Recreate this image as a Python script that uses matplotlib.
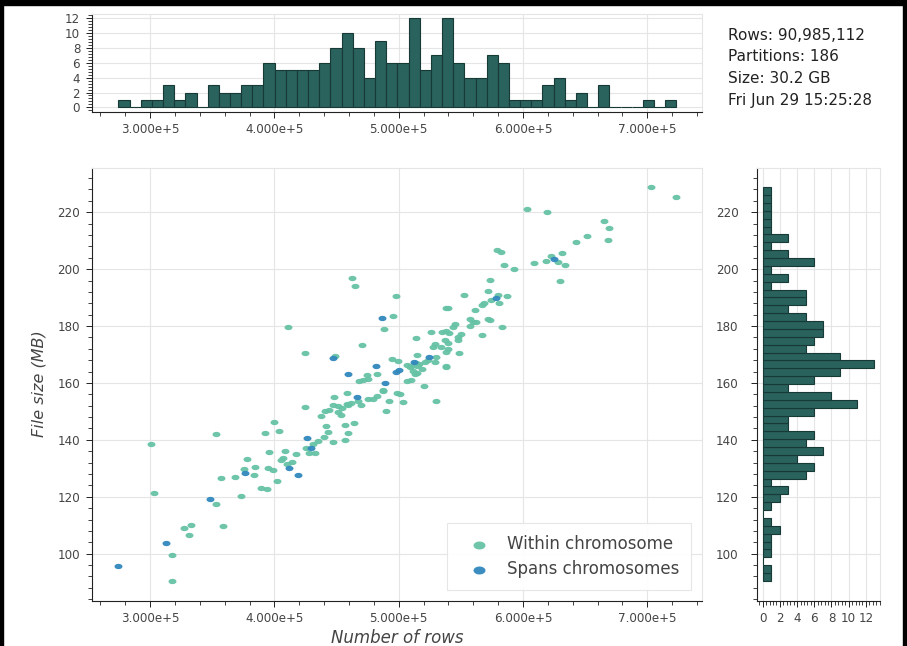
import numpy as np
import matplotlib.pyplot as plt
from matplotlib.path import Path
from matplotlib.ticker import MultipleLocator, FuncFormatter

plt.rcParams['font.family'] = ['DejaVu Sans']

# %% partitions: rows (thousands) and parquet file size (MB)
within_rows = [300.8, 303.2, 317.4, 317.4, 327.3, 332.7, 331.1, 353.1, 353.1, 357.3,
               358.9, 368.6, 373.0, 375.8, 378.2, 383.6, 384.2, 389.5, 393.8, 392.7,
               395.9, 395.1, 399.1, 399.9, 402.3, 403.9, 406.7, 408.3, 410.4, 413.9,
               417.4, 424.8, 425.4, 428.0, 432.6, 437.2, 439.9, 441.5, 443.3, 444.1,
               447.3, 447.3, 447.9, 451.4, 453.3, 454.3, 456.7, 456.7, 458.1, 459.4,
               459.4, 464.0, 469.4, 475.0, 479.5, 482.7, 487.6, 489.5, 492.1, 498.8,
               501.0, 503.6,
               462.4, 464.8, 497.7, 495.6, 488.1, 410.9, 424.8, 470.4, 448.7, 494.2,
               499.5, 468.2, 474.2, 475.5, 482.7, 487.5,
               702.7, 723.4, 602.8, 619.1, 665.0, 669.0, 668.7, 651.2, 643.0, 579.2,
               582.0, 631.2, 622.3, 618.8, 608.9, 634.0, 584.8, 592.6, 629.4, 573.6,
               572.0, 580.0, 586.8, 574.6, 580.8, 568.6, 567.3, 552.6, 561.2, 539.8,
               537.9, 557.2, 559.8, 562.0, 572.0, 573.3, 583.2, 567.0, 545.0, 543.5,
               526.3, 535.1, 537.9, 540.5, 550.5, 547.7, 513.8, 537.1, 539.8, 529.1,
               527.3, 534.3, 538.4, 548.4, 514.4, 506.3, 509.0, 514.4, 516.5, 521.1,
               523.8, 529.1, 537.9, 538.4, 511.6, 514.4, 518.4, 506.3, 509.5, 513.0,
               520.4, 529.9,
               405.0, 431.0, 435.0, 441.0, 451.0, 458.0, 462.0, 467.0, 471.0, 510.0,
               514.0, 530.0, 540.0, 548.0, 557.0, 628.0]
within_size = [138.4, 121.4, 99.6, 90.4, 109.1, 110.1, 106.6, 142.2, 117.6, 126.6,
               109.6, 126.9, 120.2, 129.7, 133.4, 127.6, 130.4, 123.0, 122.7, 142.4,
               135.9, 130.0, 129.3, 146.3, 125.7, 143.2, 133.5, 136.0, 131.5, 132.2,
               134.9, 151.7, 137.3, 135.3, 135.3, 148.3, 141.1, 145.0, 142.8, 150.5,
               152.3, 139.4, 155.0, 149.8, 148.8, 151.1, 140.1, 145.2, 156.4, 152.3,
               142.3, 146.0, 152.3, 154.3, 154.3, 155.4, 157.2, 150.2, 153.7, 156.4,
               156.1, 153.4,
               196.8, 193.9, 190.4, 183.5, 178.8, 179.8, 170.5, 173.2, 169.6, 168.3,
               167.7, 160.8, 162.8, 161.4, 163.1, 157.5,
               228.8, 225.3, 221.1, 220.1, 217.0, 214.5, 210.3, 211.8, 209.6, 206.9,
               205.9, 205.5, 204.6, 202.8, 202.3, 201.4, 201.5, 200.0, 195.8, 196.2,
               192.3, 191.0, 190.4, 189.2, 188.2, 188.2, 187.5, 190.9, 185.7, 186.5,
               186.5, 182.4, 181.4, 181.4, 182.4, 182.1, 179.8, 176.9, 180.7, 179.8,
               178.0, 178.0, 178.4, 177.7, 177.2, 176.0, 175.7, 175.1, 174.2, 173.7,
               172.8, 172.6, 171.0, 170.5, 169.8, 166.3, 165.7, 165.9, 166.6, 167.5,
               168.1, 167.5, 166.0, 165.5, 164.2, 163.4, 164.9, 160.8, 161.0, 163.1,
               159.1, 153.7,
               133.0, 138.5, 139.5, 150.0, 152.0, 152.5, 153.0, 153.5, 161.0, 166.0,
               167.0, 169.0, 172.0, 175.0, 180.0, 202.5]
spans_rows = [274.5, 312.9, 348.2, 376.4, 411.5, 419.0, 426.0, 429.2, 446.9, 458.9,
              466.2, 481.5, 486.2, 488.6, 497.7, 500.2, 512.2, 524.1, 578.6, 625.0]
spans_size = [95.8, 103.8, 119.1, 128.5, 130.2, 127.6, 140.5, 137.3, 168.7, 163.3,
              155.2, 166.0, 183.0, 159.9, 164.0, 164.6, 167.5, 169.0, 189.7, 203.6]

# partitions per bin, 50 bins each
rows_counts = [1, 0, 1, 1, 3, 1, 2, 0, 3, 2, 2, 3, 3, 6, 5, 5, 5, 5, 6, 8, 10, 8, 4, 9, 6,
               6, 12, 5, 7, 12, 6, 4, 4, 7, 6, 1, 1, 1, 3, 4, 1, 2, 0, 3, 0, 0, 0, 1, 0, 1]
size_counts = [1, 1, 0, 1, 1, 1, 2, 1, 0, 1, 2, 3, 1, 5, 6, 4, 7, 5, 6, 3, 3, 6, 11, 8, 3,
               6, 9, 13, 9, 5, 6, 7, 7, 5, 3, 5, 5, 1, 3, 1, 6, 3, 1, 3, 1, 1, 1, 1, 1, 1]

info_lines = ["Rows: 90,985,112", "Partitions: 186", "Size: 30.2 GB", "Fri Jun 29 15:25:28"]

# %% bins
rows_all = np.array(within_rows + spans_rows) * 1000
size_all = np.array(within_size + spans_size)
rows_edges = np.linspace(rows_all.min(), rows_all.max(), len(rows_counts) + 1)
size_edges = np.linspace(size_all.min(), size_all.max(), len(size_counts) + 1)

bar_fill = '#2a625e'
bar_line = '#173a37'
green = '#66c2a5'
blue = '#3288bd'

t = np.linspace(0, 2 * np.pi, 41)
dot = Path(np.column_stack([1.5 * np.cos(t), np.sin(t)]), closed=True)


def bokeh_look(a):
    a.set_axisbelow(True)
    a.grid(True, which='major', color='#e5e5e5', linewidth=0.8)
    for s in ('top', 'right'):
        a.spines[s].set_color('#e5e5e5')
        a.spines[s].set_linewidth(0.8)
    for s in ('left', 'bottom'):
        a.spines[s].set_color('#222222')
        a.spines[s].set_linewidth(0.8)
    a.tick_params(which='major', length=4.3, width=0.7, color='#222222',
                  labelcolor='#444444', labelsize=8.6, pad=4)
    a.tick_params(which='minor', length=2.9, width=0.6, color='#222222')


sci = FuncFormatter(lambda v, p: f"{v / 1e5:.3f}e+5")

fig = plt.figure(figsize=(9.07, 6.46), dpi=100)
ax_top = fig.add_axes([0.1011, 0.8269, 0.6729, 0.1517])
ax = fig.add_axes([0.1011, 0.0703, 0.6729, 0.6703])
ax_right = fig.add_axes([0.8347, 0.0703, 0.1356, 0.6703])

# %% top: rows per partition
ax_top.bar(rows_edges[:-1], rows_counts, width=np.diff(rows_edges), align='edge',
           color=bar_fill, edgecolor=bar_line, linewidth=0.8, zorder=2)
ax_top.set_xlim(253000, 744000)
ax_top.set_ylim(-0.6, 12.6)
ax_top.xaxis.set_major_locator(MultipleLocator(100000))
ax_top.xaxis.set_minor_locator(MultipleLocator(20000))
ax_top.xaxis.set_major_formatter(sci)
ax_top.yaxis.set_major_locator(MultipleLocator(2))
ax_top.yaxis.set_minor_locator(MultipleLocator(0.4))
bokeh_look(ax_top)

# %% main scatter
ax.scatter(rows_all[:len(within_rows)], within_size, s=33, marker=dot, color=green,
           alpha=0.95, linewidths=0, label='Within chromosome', zorder=3)
ax.scatter(np.array(spans_rows) * 1000, spans_size, s=33, marker=dot, color=blue,
           alpha=0.95, linewidths=0, label='Spans chromosomes', zorder=4)
ax.set_xlim(253000, 744000)
ax.set_ylim(83.5, 235.7)
ax.xaxis.set_major_locator(MultipleLocator(100000))
ax.xaxis.set_minor_locator(MultipleLocator(20000))
ax.xaxis.set_major_formatter(sci)
ax.yaxis.set_major_locator(MultipleLocator(20))
ax.yaxis.set_minor_locator(MultipleLocator(4))
bokeh_look(ax)
ax.set_xlabel('Number of rows', fontsize=12, style='italic', color='#444444', labelpad=3)
ax.set_ylabel('File size (MB)', fontsize=11.5, style='italic', color='#444444', labelpad=8)

leg = ax.legend(loc='lower right', bbox_to_anchor=(0.995, 0.005), fontsize=12,
                frameon=True, fancybox=False, framealpha=0.95, edgecolor='#e5e5e5',
                borderpad=0.7, labelspacing=0.45, handlelength=2.4, handletextpad=0.45,
                markerscale=1.5, scatterpoints=1)
leg.get_frame().set_linewidth(0.8)
for txt in leg.get_texts():
    txt.set_color('#444444')

# %% right: file size distribution
ax_right.barh(size_edges[:-1], size_counts, height=np.diff(size_edges), align='edge',
              color=bar_fill, edgecolor=bar_line, linewidth=0.8, zorder=2)
ax_right.set_ylim(83.5, 235.7)
ax_right.set_xlim(-0.65, 13.65)
ax_right.xaxis.set_major_locator(MultipleLocator(2))
ax_right.xaxis.set_minor_locator(MultipleLocator(0.4))
ax_right.yaxis.set_major_locator(MultipleLocator(20))
ax_right.yaxis.set_minor_locator(MultipleLocator(4))
bokeh_look(ax_right)
ax_right.tick_params(axis='y', pad=9)

# %% summary text
for i, line in enumerate(info_lines):
    fig.text(728 / 907, 1 - (35 + 21.7 * i) / 646, line, fontsize=11, color='#222222',
             va='center', ha='left')

# border
fig.add_artist(plt.Rectangle((0, 1 - 5 / 646), 1, 5 / 646, transform=fig.transFigure,
                             color='black', zorder=10))
fig.add_artist(plt.Rectangle((0, 0), 3 / 907, 1, transform=fig.transFigure,
                             color='black', zorder=10))
fig.add_artist(plt.Rectangle((1 - 4 / 907, 0), 4 / 907, 1, transform=fig.transFigure,
                             color='black', zorder=10))

fig.savefig('out.png', dpi=100)
